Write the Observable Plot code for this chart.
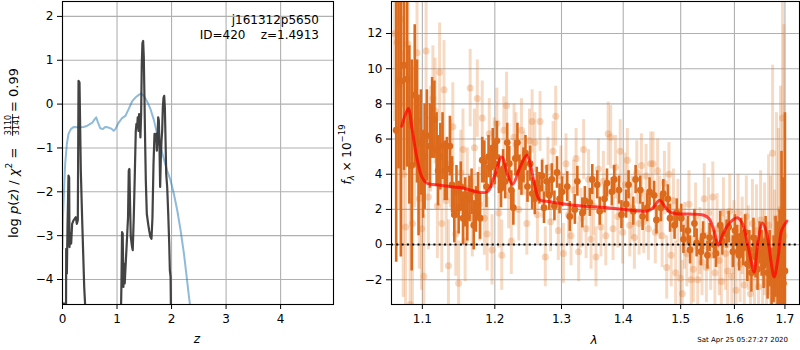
<!DOCTYPE html>
<html><head><meta charset="utf-8">
<script src="https://cdn.jsdelivr.net/npm/d3@7"></script>
<script src="https://cdn.jsdelivr.net/npm/@observablehq/plot@0.6"></script>
<style>
body{margin:0;background:#fff;}
#wrap{position:relative;width:800px;height:350px;overflow:hidden;}
#wrap svg{position:absolute;top:0;overflow:visible;}
</style></head><body><div id="wrap"></div>
<script>
// ---------- Left panel data: log p(z) ----------
const zTicks = [0, 1, 2, 3, 4];
const logpTicks = [-4, -3, -2, -1, 0, 1, 2];
const pzZ = [0, 0.065, 0.068, 0.08, 0.092, 0.11, 0.122, 0.128, 0.147, 0.159, 0.177, 0.202, 0.226, 0.245, 0.263, 0.281, 0.294, 0.312, 0.336, 0.361, 0.398, 0.416, 0.43, 1.06,
  1.074, 1.08, 1.092, 1.104, 1.117, 1.129, 1.141, 1.153, 1.172, 1.184, 1.202, 1.215, 1.227, 1.239, 1.252, 1.276, 1.288, 1.307, 1.325, 1.344, 1.356, 1.368, 1.380, 1.393, 1.405, 1.417, 1.429, 1.442, 1.454, 1.466, 1.479, 1.491, 1.503, 1.515, 1.528, 1.546, 1.571, 1.589, 1.613, 1.632, 1.650, 1.669, 1.687, 1.706, 1.718, 1.730, 1.742, 1.755, 1.767, 1.779, 1.791, 1.804, 1.816, 1.828, 1.840, 1.853, 1.865, 1.877, 1.890, 1.902, 1.920, 1.939, 1.957, 1.969, 1.982, 1.988, 2.0, 4.97];
const pzLogP = [-4.55, -4.55, -3.3, -3.86, -2.8, -1.63, -1.67, -3.26, -2.95, -3.18, -2.73, -2.65, -2.61, -2.58, -2.73, -2.65, 0.53, 0.49, -1.52, -2.65, -4.17, -4.6, -6, -6,
  -4.6, -4.17, -2.92, -2.95, -4.17, -3.64, -4.09, -3.79, -3.33, -3.03, -2.58, -1.52, -1.48, -2.27, -3.03, -3.26, -3.33, -2.58, -1.67, -0.61, -0.45, -0.53, -0.30, -0.61, -0.23, -0.38, -0.76, -0.23, 0.91, 1.39, 1.44, 1.06, 0.15, -0.83, -1.74, -2.5, -2.73, -2.88, -3.03, -3.07, -2.58, -1.36, -0.68, -0.83, -0.68, -1.06, -0.83, -0.30, -0.38, -0.98, -1.89, -1.21, -0.83, -0.61, -0.08, 0.15, 0.19, -0.08, -0.83, -1.59, -1.89, -2.5, -3.18, -3.79, -3.94, -4.6, -6, -6];
const priorZ = [0, 0.006, 0.031, 0.049, 0.08, 0.11, 0.153, 0.202, 0.294, 0.385, 0.446, 0.508, 0.55, 0.581, 0.618, 0.648, 0.691, 0.74, 0.783, 0.832, 0.875, 0.908, 0.939, 0.969, 1.031, 1.092, 1.153, 1.215, 1.276, 1.337, 1.399, 1.442, 1.491, 1.552, 1.613, 1.675, 1.736, 1.798, 1.859, 1.92, 1.982, 2.043, 2.104, 2.166, 2.227, 2.27, 2.319, 2.34, 2.4];
const priorLogP = [-3.3, -2.65, -1.89, -1.36, -0.91, -0.68, -0.57, -0.52, -0.53, -0.52, -0.5, -0.45, -0.42, -0.36, -0.30, -0.41, -0.55, -0.57, -0.52, -0.53, -0.55, -0.57, -0.61, -0.57, -0.42, -0.32, -0.27, -0.11, 0.06, 0.15, 0.21, 0.24, 0.19, 0.06, -0.11, -0.36, -0.68, -0.98, -1.25, -1.52, -1.74, -2.05, -2.42, -2.88, -3.41, -3.86, -4.39, -4.6, -5.2];

// ---------- Right panel data: spectrum ----------
const lamTicks = [1.1, 1.2, 1.3, 1.4, 1.5, 1.6, 1.7];
const fluxTicks = [-2, 0, 2, 4, 6, 8, 10, 12];
// [lambda, flux, error]
const specDark = [
 [1.066,6.5,7.5],[1.069,9.3,5.0],[1.072,9.3,10],[1.076,10.2,6],[1.080,9.4,5],[1.083,6.8,4.5],[1.086,4.5,6],[1.090,8.5,4],[1.093,7.0,3.5],[1.095,4.5,4],
 [1.098,5.8,3],[1.101,4.0,2.5],[1.103,5.0,3],[1.106,6.2,2.6],[1.110,5.6,2.4],[1.113,7.2,2.3],[1.116,7.1,2.2],[1.119,5.4,2.1],[1.121,4.2,2.0],[1.124,5.0,1.9],
 [1.127,5.6,1.9],[1.130,4.2,1.7],[1.133,4.3,1.8],[1.137,5.6,1.7],[1.140,3.4,1.6],[1.143,1.7,1.6],[1.146,3.0,1.5],[1.149,2.1,1.5],[1.152,3.3,1.4],[1.155,1.5,1.5],
 [1.158,2.4,1.4],[1.161,1.6,1.4],[1.164,2.6,1.3],[1.167,3.0,1.3],[1.170,1.1,1.4],[1.173,2.0,1.3],[1.176,2.8,1.3],[1.179,1.5,1.2],[1.182,4.8,1.3],[1.185,4.7,1.2],
 [1.188,3.3,1.2],[1.191,5.0,1.2],[1.194,4.4,1.2],[1.197,5.5,1.1],[1.200,4.6,1.2],[1.203,5.9,1.1],[1.206,4.0,1.1],[1.209,3.2,1.1],[1.212,4.3,1.1],[1.215,3.6,1.0],
 [1.218,5.8,1.1],[1.221,4.6,1.0],[1.224,3.1,1.1],[1.227,2.1,1.0],[1.230,4.9,1.0],[1.233,5.8,1.1],[1.236,4.1,1.0],[1.239,3.8,1.0],[1.242,4.5,1.0],[1.245,5.2,1.0],
 [1.248,3.3,0.9],[1.252,4.6,1.0],[1.255,2.9,0.9],[1.259,2.6,0.9],[1.262,3.5,0.9],[1.266,3.2,0.9],[1.270,3.9,0.9],[1.273,2.1,0.9],[1.277,3.6,0.9],[1.281,2.8,0.85],
 [1.285,3.7,0.9],[1.289,2.2,0.85],[1.293,4.1,0.9],[1.297,2.6,0.85],[1.301,3.0,0.85],[1.309,3.3,0.85],[1.313,1.6,0.85],[1.321,2.0,0.85],
 [1.325,3.6,0.85],[1.333,1.8,0.85],[1.337,2.5,0.8],[1.345,2.4,0.8],[1.349,3.7,0.85],[1.357,3.4,0.8],[1.361,1.9,0.8],
 [1.369,2.6,0.8],[1.373,3.5,0.8],[1.381,3.0,0.8],[1.385,3.7,0.8],[1.393,3.1,0.8],[1.397,1.7,0.8],
 [1.405,2.3,0.8],[1.409,3.4,0.8],[1.417,1.9,0.8],[1.421,3.7,0.8],[1.429,3.1,0.8],[1.433,1.6,0.8],[1.441,2.1,0.8],
 [1.445,3.0,0.8],[1.453,2.8,0.8],[1.457,1.4,0.8],[1.465,2.1,0.8],[1.469,2.9,0.8],[1.477,2.6,0.8],[1.481,1.5,0.8],
 [1.489,1.1,0.8],[1.493,1.8,0.8],[1.501,1.5,0.8],[1.505,0.3,0.8],[1.513,0.8,0.8],[1.517,-0.3,0.8],
 [1.525,1.2,0.8],[1.529,0.1,0.8],[1.537,-0.4,0.8],[1.541,0.5,0.8],[1.549,-0.6,0.8],[1.553,0.4,0.8],[1.561,0.0,0.8],
 [1.565,-0.5,0.8],[1.573,1.1,0.8],[1.577,0.2,0.8],[1.585,0.6,0.8],[1.589,1.0,0.9],[1.597,-0.4,0.9],[1.601,0.8,0.9],
 [1.605,0.2,0.9],[1.609,-0.6,0.9],[1.613,0.5,1.0],[1.617,-0.2,1.0],[1.621,0.7,1.0],[1.625,-1.1,1.0],[1.629,-0.3,1.1],[1.633,-1.6,1.1],[1.637,0.4,1.1],[1.641,-0.7,1.2],
 [1.645,-1.4,1.2],[1.649,0.1,1.2],[1.653,-0.5,1.3],[1.657,-1.2,1.3],[1.661,0.2,1.4],[1.665,-1.6,1.5],[1.669,-0.8,1.6],[1.673,-1.9,1.7],[1.677,-1.4,1.9],[1.681,-0.7,2.3],
 [1.685,-1.7,3.0],[1.689,-1.5,3.5],[1.693,0.8,4.5],[1.697,-2.2,6],[1.700,-1.5,9]
];
const specLight = [
 [1.064,12.0,5],[1.067,11.5,6],[1.070,9.0,7],[1.073,12.8,5],[1.075,4.0,7],[1.078,1.0,6],[1.081,11.4,4],[1.084,-3.4,6],[1.087,1.2,5],[1.090,6.1,4],
 [1.093,10.9,3.5],[1.096,2.6,4],[1.099,0.9,3.5],[1.102,-1.8,3.5],[1.105,11.0,3],[1.108,2.7,3],[1.111,6.0,3],[1.114,8.3,3],[1.117,7.6,3],[1.120,2.2,3],
 [1.123,9.8,2.8],[1.126,1.2,2.8],[1.129,8.8,2.8],[1.132,2.5,2.6],[1.135,-1.2,2.6],[1.138,4.6,2.5],[1.141,6.7,2.5],[1.145,0.6,2.4],[1.149,-2.2,2.4],[1.152,4.1,2.4],
 [1.155,5.4,2.3],[1.158,0.2,2.3],[1.161,3.2,2.3],[1.165,8.9,2.2],[1.168,1.5,2.2],[1.171,5.5,2.2],[1.175,8.3,2.2],[1.178,2.3,2.1],[1.182,7.2,2.1],[1.185,1.5,2.1],
 [1.189,0.6,2.1],[1.192,6.3,2.0],[1.196,-0.3,2.0],[1.199,5.2,2.0],[1.203,6.9,2.0],[1.206,1.8,2.0],[1.210,-0.6,2.0],[1.213,6.5,1.9],[1.217,7.9,1.9],[1.220,2.8,1.9],
 [1.224,0.2,1.9],[1.228,6.1,1.9],[1.231,5.7,1.8],[1.235,2.0,1.8],[1.239,6.5,1.8],[1.243,4.6,1.8],[1.247,1.2,1.8],[1.251,5.9,1.8],[1.255,7.0,1.8],[1.259,5.8,1.7],
 [1.263,1.7,1.7],[1.267,7.0,1.7],[1.271,3.2,1.7],[1.275,-0.7,1.7],[1.279,4.4,1.7],[1.283,1.3,1.7],[1.287,5.3,1.7],[1.291,7.3,1.7],[1.295,0.8,1.7],[1.299,3.9,1.7],
 [1.303,-0.5,1.7],[1.307,4.6,1.7],[1.311,1.7,1.7],[1.315,0.5,1.7],[1.319,3.1,1.7],[1.323,4.9,1.7],[1.327,-0.4,1.7],[1.331,1.5,1.7],[1.335,5.4,1.7],[1.339,0.9,1.7],
 [1.343,3.7,1.7],[1.347,0.3,1.7],[1.351,2.2,1.7],[1.355,-0.7,1.7],[1.359,4.3,1.7],[1.363,1.0,1.7],[1.367,3.6,1.7],[1.371,0.5,1.7],[1.375,6.3,1.8],[1.379,6.1,1.8],
 [1.383,0.9,1.8],[1.387,4.4,1.8],[1.391,1.6,1.8],[1.395,5.3,1.8],[1.399,0.7,1.8],[1.403,3.4,1.8],[1.407,4.8,1.8],[1.411,1.1,1.8],[1.415,2.1,1.8],[1.419,0.4,1.8],
 [1.423,4.1,1.8],[1.427,1.2,1.8],[1.431,4.5,1.8],[1.435,1.3,1.8],[1.439,3.9,1.8],[1.443,0.9,1.8],[1.447,4.6,1.8],[1.451,4.6,1.8],[1.455,0.7,1.8],[1.459,4.2,1.8],
 [1.463,2.1,1.8],[1.467,0.5,1.8],[1.471,3.5,1.8],[1.475,-1.3,1.8],[1.479,4.0,1.8],[1.483,-0.6,1.8],[1.487,2.5,1.8],[1.491,-1.6,1.8],[1.495,1.9,1.8],[1.499,-1.9,1.9],
 [1.503,-2.8,1.9],[1.507,0.5,1.9],[1.511,-0.5,1.9],[1.515,2.3,1.9],[1.519,-2.0,1.9],[1.523,-1.4,1.9],[1.527,1.6,1.9],[1.531,-2.0,1.9],[1.535,0.2,1.9],[1.539,-1.0,1.9],
 [1.543,2.6,2.0],[1.547,-1.3,2.0],[1.551,1.8,2.0],[1.555,-0.6,2.0],[1.559,2.7,2.0],[1.563,-1.6,2.0],[1.567,0.9,2.0],[1.571,-0.9,2.0],[1.575,-2.1,2.0],[1.579,1.8,2.0],
 [1.583,-0.5,2.1],[1.587,-1.5,2.1],[1.591,1.9,2.1],[1.595,-1.8,2.1],[1.599,0.4,2.1],[1.603,-2.6,2.2],[1.607,1.8,2.2],[1.611,-1.1,2.2],[1.615,0.5,2.2],[1.619,-2.3,2.3],
 [1.623,1.6,2.3],[1.627,-0.2,2.4],[1.631,-2.8,2.4],[1.635,1.2,2.5],[1.639,-1.5,2.5],[1.643,0.8,2.6],[1.647,-2.4,2.7],[1.651,1.4,2.8],[1.655,-1.0,3.0],[1.659,0.3,3.2],
 [1.663,-2.2,3.5],[1.667,1.1,4],[1.671,-0.6,4.5],[1.675,5.2,5],[1.679,-1.9,5],[1.683,1.5,6],[1.687,-0.4,7],[1.691,2.0,7],[1.695,7.2,9],[1.698,0.5,12]
];
const modelLam = [1.0731,1.0816,1.0861,1.0926,1.0993,1.1058,1.1236,1.1509,1.1886,1.1990,1.2100,1.2196,1.2261,1.2370,1.2469,1.2519,1.2594,1.2660,1.2772,1.3189,1.3730,1.4410,1.4497,1.4630,1.4701,1.4808,1.4940,1.5424,1.5517,1.5611,1.5694,1.5770,1.5896,1.6058,1.6155,1.6252,1.6350,1.6383,1.6462,1.6549,1.6635,1.6715,1.6782,1.6863,1.6932,1.7040];
const modelFlux = [6.73,7.74,6.69,4.98,3.85,3.5,3.37,3.24,2.99,3.85,4.98,3.85,3.43,4.41,5.08,4.61,3.28,2.56,2.46,2.24,2.10,1.91,2.05,2.52,2.24,1.85,1.76,1.67,1.48,0.81,-0.04,0.53,1.19,1.53,1.19,0.05,-1.27,-1.56,0.25,1.23,0.63,-0.89,-1.84,-0.71,0.81,1.34];

// ---------- build tables ----------
const pzRows = pzZ.map((z, i) => ({z, v: pzLogP[i]}));
const priorRows = priorZ.map((z, i) => ({z, v: priorLogP[i]}));
const darkRows = specDark.map(([lam, f, e]) => ({lam, f, e}));
const lightRows = specLight.map(([lam, f, e]) => ({lam, f, e}));
const modelRows = modelLam.map((lam, i) => ({lam, f: modelFlux[i]}));

const FONT = "DejaVu Sans";
const GRID = {stroke: "#b0b0b0", strokeOpacity: 1, strokeWidth: 1.1};
const DARK = "#dc6a1c";
const LIGHT = "#e47a2a";

const left = Plot.plot({
  width: 340, height: 350,
  marginLeft: 62, marginRight: 7, marginTop: 1, marginBottom: 46,
  style: {fontFamily: FONT, fontSize: "12px", background: "transparent", color: "black"},
  x: {domain: [0, 4.97]},
  y: {domain: [-4.57, 2.34]},
  marks: [
    Plot.gridX(zTicks, GRID),
    Plot.gridY(logpTicks, GRID),
    Plot.line(priorRows, {x: "z", y: "v", stroke: "#1f77b4", strokeOpacity: 0.5, strokeWidth: 2, clip: true}),
    Plot.line(pzRows, {x: "z", y: "v", stroke: "#333333", strokeOpacity: 0.92, strokeWidth: 2.2, clip: true}),
    Plot.frame({stroke: "black", strokeWidth: 1.1}),
    Plot.axisX(zTicks, {tickSize: 5, tickPadding: 5, label: null, tickFormat: d3.format("d")}),
    Plot.axisY(logpTicks, {tickSize: 5, tickPadding: 4, label: null, tickFormat: d3.format("d")})
  ]
});

const right = Plot.plot({
  width: 470, height: 350,
  marginLeft: 61, marginRight: 1, marginTop: 1, marginBottom: 46,
  style: {fontFamily: FONT, fontSize: "12px", background: "transparent", color: "black"},
  x: {type: "log", domain: [1.06, 1.730]},
  y: {domain: [-3.405, 13.82]},
  marks: [
    Plot.gridX(lamTicks, GRID),
    Plot.gridY(fluxTicks, GRID),
    Plot.ruleX(lightRows, {x: "lam", y1: d => d.f - d.e, y2: d => d.f + d.e, stroke: LIGHT, strokeOpacity: 0.28, strokeWidth: 3, clip: true}),
    Plot.dot(lightRows, {x: "lam", y: "f", r: 3.5, fill: LIGHT, fillOpacity: 0.3, clip: true}),
    Plot.ruleX(darkRows, {x: "lam", y1: d => d.f - d.e, y2: d => d.f + d.e, stroke: DARK, strokeWidth: 2.6, clip: true}),
    Plot.dot(darkRows, {x: "lam", y: "f", r: 3.4, fill: DARK, clip: true}),
    Plot.ruleY([0], {stroke: "black", strokeWidth: 2, strokeDasharray: "2,3.3"}),
    Plot.line(modelRows, {x: "lam", y: "f", curve: "catmull-rom", stroke: "red", strokeOpacity: 0.7, strokeWidth: 3, clip: true}),
    Plot.frame({stroke: "black", strokeWidth: 1.1}),
    Plot.axisX(lamTicks, {tickSize: 5, tickPadding: 5, label: null, tickFormat: d3.format(".1f")}),
    Plot.axisY(fluxTicks, {tickSize: 5, tickPadding: 4, label: null, tickFormat: d3.format("d")})
  ]
});

const wrap = document.getElementById("wrap");
left.style.left = "0px";
right.style.left = "330px";
wrap.appendChild(left);
wrap.appendChild(right);

// ---------- text decorations ----------
const L = d3.select(left), R = d3.select(right);
function txt(sel, x, y, s, opts = {}) {
  const t = sel.append("text").attr("x", x).attr("y", y).attr("font-family", FONT)
    .attr("font-size", opts.size || 12).attr("fill", "black").attr("text-anchor", opts.anchor || "start")
    .style("white-space", "pre");
  if (opts.italic) t.attr("font-style", "italic");
  t.text(s);
  return t;
}
txt(L, 319, 24, "j161312p5650", {anchor: "end"});
txt(L, 319, 39.3, "ID=420    z=1.4913", {anchor: "end"});
txt(L, 197, 343, "z", {anchor: "middle", italic: true});
txt(R, 264, 343.5, "λ", {anchor: "middle", italic: true});
txt(R, 458, 342, "Sat Apr 25 05:27:27 2020", {anchor: "end", size: 7});

// left y label with stacked fraction (rotated group; text x = -screen y)
(function () {
  const g = L.append("g").attr("font-family", FONT).attr("fill", "black")
    .attr("transform", "translate(17.8,0) rotate(-90)");
  const t1 = g.append("text").attr("x", -238).attr("y", 0).attr("font-size", 13).attr("text-anchor", "start").style("white-space", "pre");
  t1.append("tspan").text("log ");
  t1.append("tspan").attr("font-style", "italic").text("p");
  t1.append("tspan").text("(");
  t1.append("tspan").attr("font-style", "italic").text("z");
  t1.append("tspan").text(") / ");
  t1.append("tspan").attr("font-style", "italic").text("χ");
  t1.append("tspan").attr("font-size", 9).attr("dy", -5.5).text("2");
  t1.append("tspan").attr("dy", 5.5).text(" =");
  g.append("text").attr("x", -125).attr("y", -7).attr("font-size", 8).attr("text-anchor", "middle").text("3110");
  g.append("text").attr("x", -125).attr("y", 1.6).attr("font-size", 8).attr("text-anchor", "middle").text("3141");
  g.append("line").attr("x1", -136).attr("x2", -114).attr("y1", -5.2).attr("y2", -5.2).attr("stroke", "black").attr("stroke-width", 0.8);
  g.append("text").attr("x", -68).attr("y", 0).attr("font-size", 13).attr("text-anchor", "end").style("white-space", "pre").text("= 0.99");
})();

// right y label
(function () {
  const t = R.append("text").attr("font-family", FONT).attr("font-size", 12).attr("fill", "black")
    .attr("text-anchor", "middle").attr("transform", "translate(20.5,154.5) rotate(-90)").style("white-space", "pre");
  t.append("tspan").attr("font-style", "italic").text("f");
  t.append("tspan").attr("font-size", 8.5).attr("dy", 3).attr("font-style", "italic").text("λ");
  t.append("tspan").attr("dy", -3).text(" × 10");
  t.append("tspan").attr("font-size", 8.5).attr("dy", -5.5).text("−19");
})();
</script>
</body></html>
